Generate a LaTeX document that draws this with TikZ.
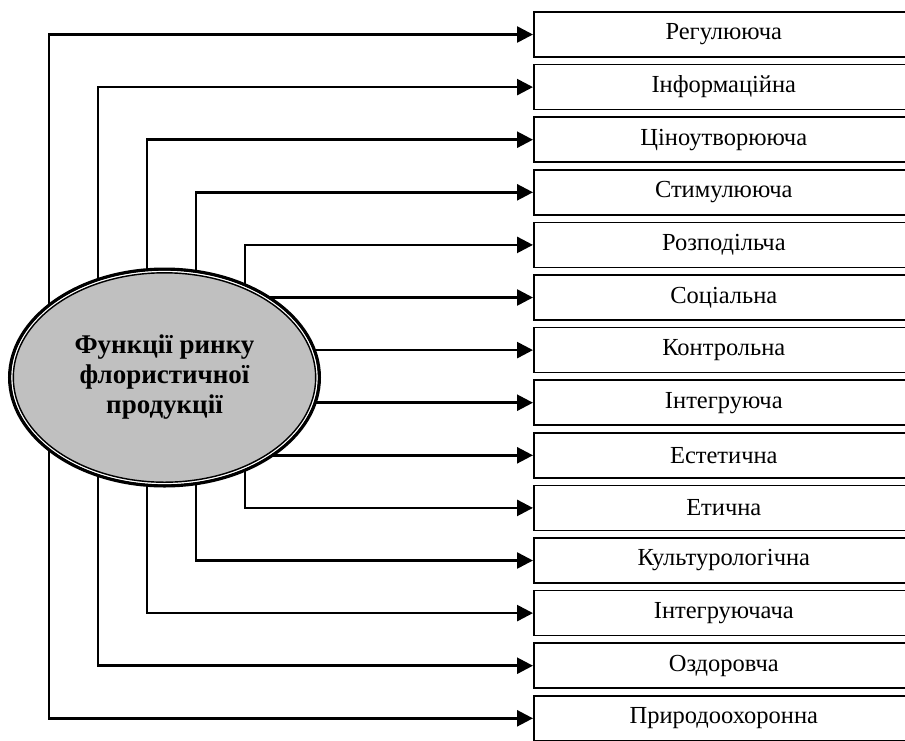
\documentclass[tikz,border=0pt]{standalone}
\usepackage{fontspec}
\setmainfont{Liberation Serif}
\usetikzlibrary{arrows.meta,shapes.geometric}
\pgfdeclarelayer{bg}
\pgfsetlayers{bg,main}
\definecolor{ellgray}{RGB}{192,192,192}
\begin{document}
\begin{tikzpicture}[x=1pt,y=-1pt,
  fbox/.style={draw, line width=1.6pt, rectangle, minimum width=380pt, minimum height=45pt,
    anchor=west, inner sep=0pt, font=\fontsize{24.5}{29}\selectfont},
  arr/.style={line width=2.6pt, -{Triangle[length=16pt,width=16pt]}},
  vline/.style={line width=1.4pt},
  center/.style={ellipse, draw, line width=3.4pt, fill=ellgray, minimum width=309.6pt,
    minimum height=216.6pt, inner sep=0pt, align=center,
    font=\bfseries\fontsize{27}{30}\selectfont}
]
\useasboundingbox (0,0) rectangle (905,740);
\clip (0,0) rectangle (905,740);
\foreach \t [count=\i from 0] in {Регулююча, Інформаційна, Ціноутворююча, Стимулююча,
  Розподільча, Соціальна, Контрольна, Інтегруюча, Естетична, Етична, Культурологічна,
  Інтегруючача, Оздоровча, Природоохоронна}
  \node[fbox] (b\i) at (533, 34.5+52.6*\i) {\t};
\node[center] (e) at (164.5,377.5) {Функції ринку\\флористичної\\продукції};
\draw[white, line width=1.2pt] (e.center) ellipse [x radius=152.5pt, y radius=106pt];
\draw[line width=1.4pt] (e.center) ellipse [x radius=151.2pt, y radius=104.7pt];
\begin{pgfonlayer}{bg}
\foreach \k in {0,...,4} {
  \pgfmathtruncatemacro\j{13-\k}
  \coordinate (c\k) at (49+49*\k, 0);
  \draw[vline] (c\k |- b\k.west) -- (c\k |- b\j.west);
  \draw[arr] ([xshift=-0.7pt]c\k |- b\k.west) -- (b\k.west);
  \draw[arr] ([xshift=-0.7pt]c\k |- b\j.west) -- (b\j.west);
}
\foreach \k in {5,...,8}
  \draw[arr] (e.center |- b\k.west) -- (b\k.west);
\end{pgfonlayer}
\end{tikzpicture}
\end{document}
